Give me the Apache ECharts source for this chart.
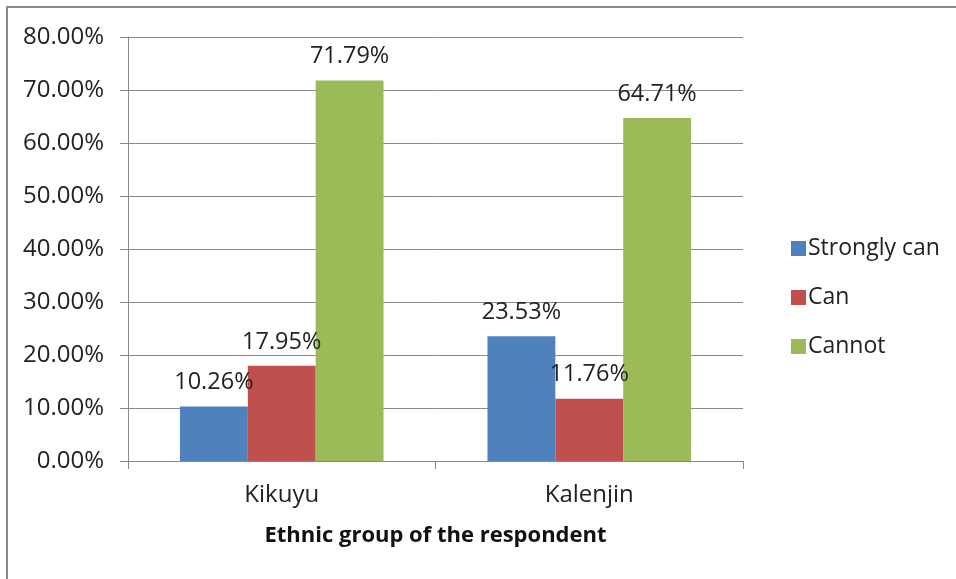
<!DOCTYPE html>
<html><head><meta charset="utf-8">
<script src="https://cdn.jsdelivr.net/npm/echarts@6/dist/echarts.min.js"></script>
<style>html,body{margin:0;padding:0;background:#fff}#c{width:956px;height:579px}</style>
</head><body><div id="c"></div>
<script>
const categories = ['Kikuyu', 'Kalenjin'];
const seriesNames = ['Strongly can', 'Can', 'Cannot'];
const stronglyCan = [10.26, 23.53];
const can = [17.95, 11.76];
const cannot = [71.79, 64.71];
const colors = ['#4F81BD', '#C0504D', '#9BBB59'];
const FONT = '"Open Sans", sans-serif';
const chart = echarts.init(document.getElementById('c'));
const mk = (name, data, color) => ({
  name, type: 'bar', data, barGap: '0%', barCategoryGap: '33.8%',
  itemStyle: { color },
  label: { show: true, position: 'top', distance: 12, color: '#222', fontFamily: FONT, fontSize: 23.5,
    formatter: p => p.value.toFixed(2) + '%' }
});
chart.setOption({
  animation: false,
  graphic: [{ type: 'rect', shape: { x: 7, y: 7, width: 1000, height: 700 }, style: { fill: 'none', stroke: '#8a8a8a', lineWidth: 2 }, silent: true }],
  grid: { left: 128, right: 213, top: 37, bottom: 118, containLabel: false },
  legend: {
    orient: 'vertical', left: 786, top: 232, itemGap: 26, itemWidth: 15, itemHeight: 15, icon: 'rect',
    textStyle: { fontFamily: FONT, fontSize: 23, color: '#222', padding: [0, 0, 0, -3] },
    data: seriesNames
  },
  xAxis: {
    type: 'category', data: categories,
    name: 'Ethnic group of the respondent', nameLocation: 'middle', nameGap: 64,
    nameTextStyle: { fontFamily: FONT, fontSize: 22, fontWeight: 'bold', color: '#111' },
    axisLine: { lineStyle: { color: '#8a8a8a', width: 1 } },
    axisTick: { show: true, length: 8, lineStyle: { color: '#8a8a8a' } },
    axisLabel: { fontFamily: FONT, fontSize: 24, color: '#222', margin: 22 }
  },
  yAxis: {
    type: 'value', min: 0, max: 80, interval: 10,
    axisLine: { show: true, lineStyle: { color: '#8a8a8a', width: 1 } },
    axisTick: { show: true, length: 8, lineStyle: { color: '#8a8a8a' } },
    splitLine: { lineStyle: { color: '#8a8a8a', width: 1 } },
    axisLabel: { fontFamily: FONT, fontSize: 24, color: '#222', margin: 24, formatter: v => v.toFixed(2) + '%' }
  },
  series: [mk(seriesNames[0], stronglyCan, colors[0]), mk(seriesNames[1], can, colors[1]), mk(seriesNames[2], cannot, colors[2])]
});
</script></body></html>
